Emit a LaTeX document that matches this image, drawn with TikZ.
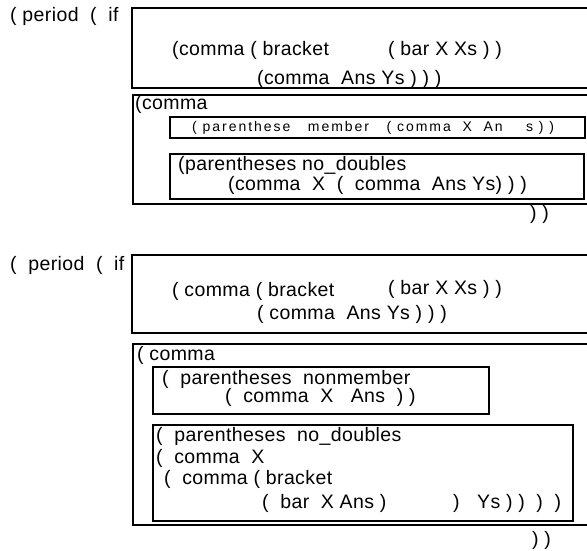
\documentclass[tikz,border=0pt]{standalone}
\usepackage{fontspec}
\setmainfont{Liberation Sans}
\begin{document}
\begin{tikzpicture}[x=1pt,y=-1pt,
  lbl/.style={anchor=west,inner sep=0pt,font=\fontsize{19.5}{22}\selectfont\addfontfeatures{LetterSpace=2}},
  tiny/.style={anchor=west,inner sep=0pt,font=\fontsize{14}{16}\selectfont\addfontfeatures{LetterSpace=14}},
  frame/.style={line width=1.2pt}]
\useasboundingbox (0,0) rectangle (587,550);

% first clause
\node[lbl] (p1) at (10,16) {( period ~( ~if};
\path[draw,frame] (587,8) -- (132,8) -- (132,88) -- (587,88);
\node[lbl] (br1) at (172,50) {(comma ( bracket};
\node[lbl] (bar1) at (388,50) {( bar X Xs ) )};
\node[lbl] (ans1) at (257,79) {(comma ~Ans Ys ) ) )};
\path[draw,frame] (587,95) -- (133,95) -- (133,204) -- (587,204);
\node[lbl] (cm1) at (135,104) {(comma};
\path[draw,frame] (170,117) rectangle (585,138);
\node[tiny] (mem1) at (192,128) {( parenthese ~~member ~~( comma ~X ~An ~~~s ) )};
\path[draw,frame] (170,154) rectangle (584,199);
\node[lbl] (nd1) at (178,165) {(parentheses no\_doubles};
\node[lbl] (cx1) at (228,185) {(comma ~X ~( ~comma ~Ans Ys) ) )};
\node[lbl] (cl1) at (530,214) {) )};

% second clause
\node[lbl] (p2) at (10,265) {( ~period ~( ~if};
\path[draw,frame] (587,255) -- (132,255) -- (132,333) -- (587,333);
\node[lbl] (br2) at (172,291) {( comma ( bracket};
\node[lbl] (bar2) at (388,289) {( bar X Xs ) )};
\node[lbl] (ans2) at (257,314) {( comma ~Ans Ys ) ) )};
\path[draw,frame] (587,344) -- (133,344) -- (133,525) -- (587,525);
\node[lbl] (cm2) at (137,355) {( comma};
\path[draw,frame] (153,367) rectangle (489,414);
\node[lbl] (nm2) at (162,379) {( ~parentheses ~nonmember};
\node[lbl] (cx2) at (225,397) {( ~comma ~X ~~Ans ~) )};
\path[draw,frame] (153,425) rectangle (573,521);
\node[lbl] (nd2) at (156,436) {( ~parentheses ~no\_doubles};
\node[lbl] (cx3) at (156,458) {( ~comma ~X};
\node[lbl] (cb2) at (164,479) {( ~comma ( bracket};
\node[lbl] (bx2) at (262,503) {( ~bar ~X Ans )};
\node[lbl] (ys2) at (453,503) {) ~~Ys ) ) ~) ~)};
\node[lbl] (cl2) at (532,540) {) )};
\end{tikzpicture}
\end{document}
